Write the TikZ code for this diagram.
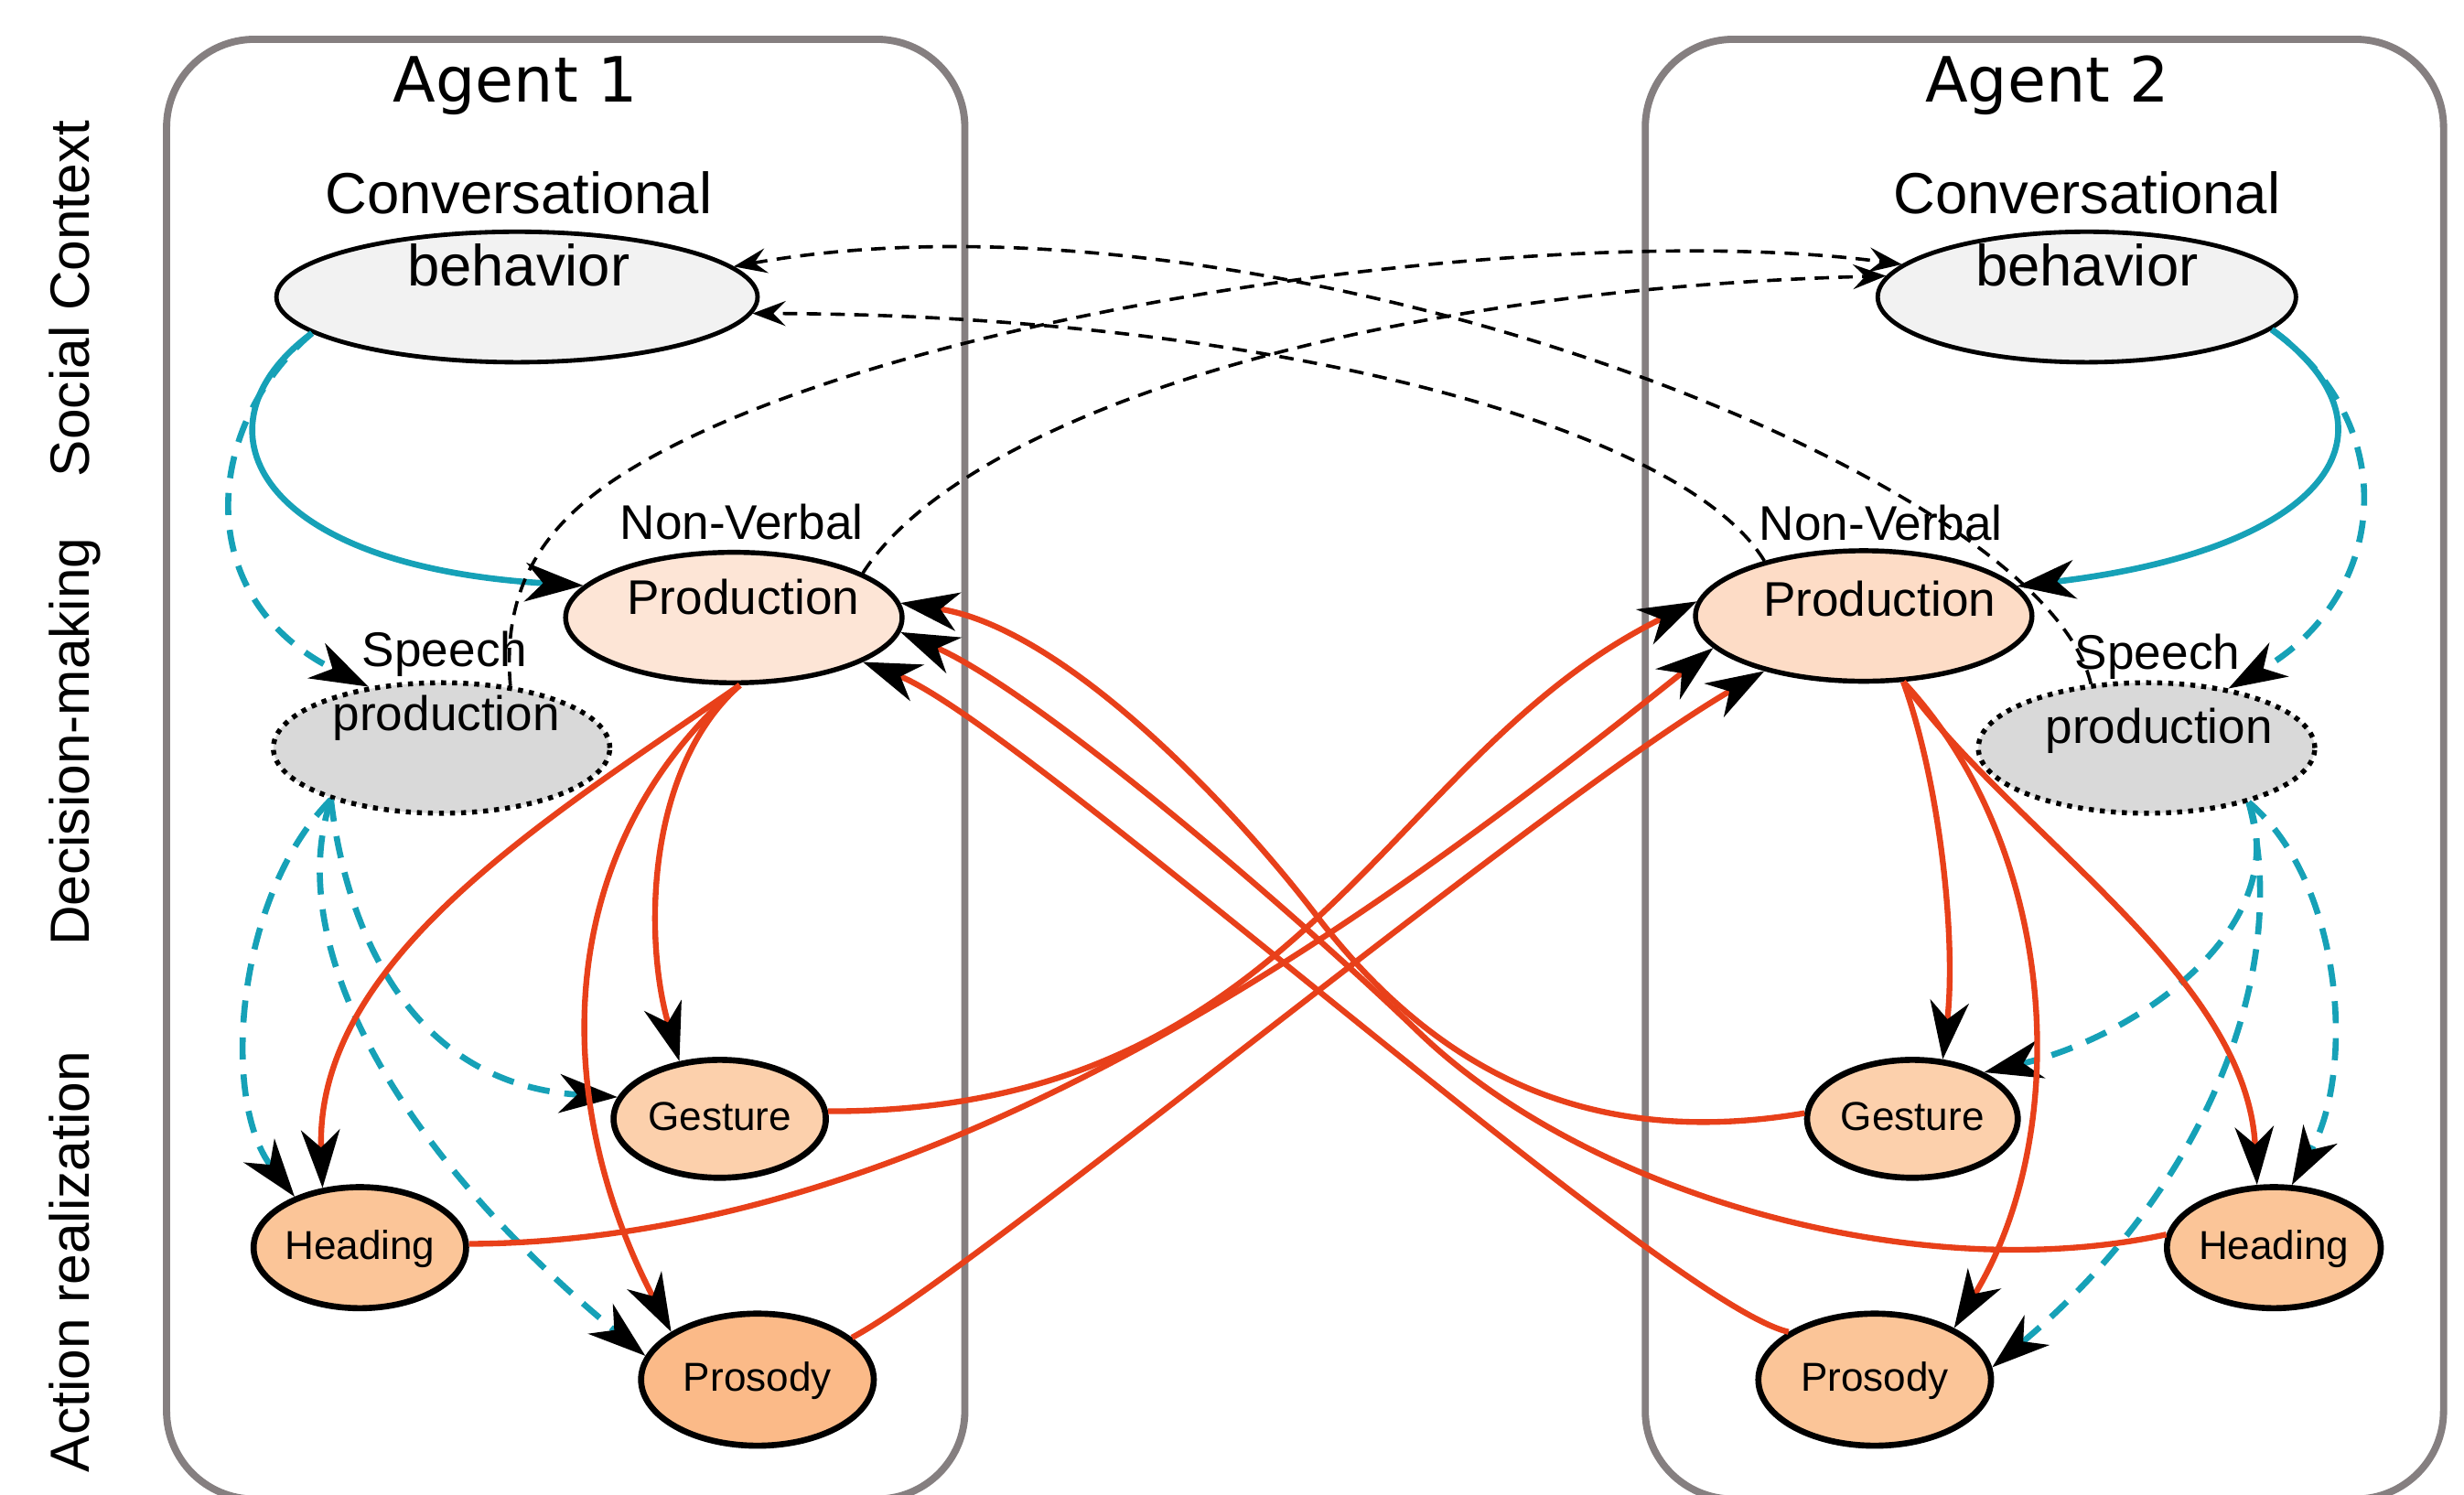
\documentclass[tikz,border=0pt]{standalone}
\usepackage{fontspec}
\setmainfont{Liberation Sans}
\newfontfamily\agentfont{DejaVu Sans}
\usetikzlibrary{shapes.geometric,arrows.meta}

\definecolor{tealc}{RGB}{22,161,183}
\definecolor{redc}{RGB}{232,64,26}
\definecolor{boxgray}{RGB}{133,127,128}
\definecolor{convfill}{RGB}{242,242,242}
\definecolor{nvfillA}{RGB}{253,229,214}
\definecolor{nvfillB}{RGB}{253,220,198}
\definecolor{spfill}{RGB}{217,217,217}
\definecolor{gesfill}{RGB}{252,208,172}
\definecolor{headfill}{RGB}{251,197,152}
\definecolor{prosfill}{RGB}{251,186,136}

\begin{document}
\begin{tikzpicture}[x=0.01cm,y=-0.01cm,
  agentbox/.style={draw=boxgray,line width=1.3pt,rounded corners=0.56cm},
  conv/.style={ellipse,draw,line width=0.8pt,fill=convfill,inner sep=0pt,minimum height=0.83cm},
  nvp/.style={ellipse,draw,line width=0.9pt,inner sep=0pt,minimum width=2.14cm,minimum height=0.83cm},
  spp/.style={ellipse,draw,line width=0.9pt,dash pattern=on 0.9pt off 1.1pt,fill=spfill,inner sep=0pt,minimum width=2.14cm,minimum height=0.83cm},
  act/.style={ellipse,draw,line width=1.1pt,inner sep=0pt,font=\fontsize{7.3}{8}\selectfont,text height=0.6em,text depth=0.17em},
  txt/.style={anchor=base,inner sep=0pt},
  bigtxt/.style={txt,font=\fontsize{10.5}{12}\selectfont},
  midtxt/.style={txt,font=\fontsize{8.8}{10}\selectfont},
  sidetxt/.style={txt,rotate=90,font=\fontsize{10}{12}\selectfont},
  agenttxt/.style={txt,font=\agentfont\fontsize{11.3}{13}\selectfont},
  bigtip/.style={-{Stealth[length=10.5pt,width=7pt,inset=3.2pt,black]}},
  smalltip/.style={-{Stealth[length=6pt,width=4.5pt,inset=2.2pt,black]}},
  tealline/.style={draw=tealc,line width=1.1pt,bigtip},
  tealdashed/.style={tealline,dash pattern=on 4pt off 2.7pt},
  redline/.style={draw=redc,line width=1.05pt,bigtip},
  blackdashed/.style={draw=black,line width=0.6pt,dash pattern=on 2.6pt off 1.7pt,smalltip}]

\useasboundingbox (0,0) rectangle (1568,951);

% the two agents
\draw[agentbox] (106,25) rectangle (614,954);
\draw[agentbox] (1047,25) rectangle (1555,954);
\node[agenttxt] (agentA) at (328,65) {Agent 1};
\node[agenttxt] (agentB) at (1303,65) {Agent 2};

% levels
\node[sidetxt] (social) at (57,190) {Social Context};
\node[sidetxt] (decision) at (57,472) {Decision-making};
\node[sidetxt] (action) at (57,803) {Action realization};

% Agent 1
\node[conv,minimum width=3.06cm] (convA) at (329,189) {};
\node[bigtxt] (convlA) at (330,136) {Conversational};
\node[bigtxt] (behA) at (330,182) {behavior};
\node[nvp,fill=nvfillA] (nvA) at (467,393) {};
\node[midtxt] (nvlA) at (472,343) {Non-Verbal};
\node[midtxt] (prodA) at (473,391) {Production};
\node[spp] (spA) at (281,476) {};
\node[midtxt] (splA) at (283,424) {Speech};
\node[midtxt] (spprodA) at (284,465) {production};
\node[act,fill=gesfill,minimum width=1.35cm,minimum height=0.75cm] (gesA) at (458,712) {Gesture};
\node[act,fill=headfill,minimum width=1.35cm,minimum height=0.77cm] (headA) at (229,794) {Heading};
\node[act,fill=prosfill,minimum width=1.48cm,minimum height=0.84cm] (prosA) at (482,878) {Prosody};

% Agent 2
\node[conv,minimum width=2.66cm] (convB) at (1328,189) {};
\node[bigtxt] (convlB) at (1328,136) {Conversational};
\node[bigtxt] (behB) at (1328,182) {behavior};
\node[nvp,fill=nvfillB] (nvB) at (1186,392) {};
\node[midtxt] (nvlB) at (1197,344) {Non-Verbal};
\node[midtxt] (prodB) at (1196,392) {Production};
\node[spp] (spB) at (1366,476) {};
\node[midtxt] (splB) at (1373,426) {Speech};
\node[midtxt] (spprodB) at (1374,473) {production};
\node[act,fill=gesfill,minimum width=1.34cm,minimum height=0.75cm] (gesB) at (1217,712) {Gesture};
\node[act,fill=headfill,minimum width=1.36cm,minimum height=0.77cm] (headB) at (1447,794) {Heading};
\node[act,fill=headfill,minimum width=1.48cm,minimum height=0.84cm] (prosB) at (1193,878) {Prosody};

% social context -> decision
\draw[tealline] (convA.190) .. controls (120,270) and (160,360) .. (nvA.168);
\draw[tealdashed] (convA.190) .. controls (130,270) and (120,380) .. (spA.140);
\draw[tealline] (convB.350) .. controls (1535,275) and (1480,350) .. (nvB.11);
\draw[tealdashed] (convB.350) .. controls (1530,270) and (1520,380) .. (spB.36);

% decision -> action, speech
\draw[tealdashed] (spA.205) .. controls (150,570) and (140,700) .. (headA.142);
\draw[tealdashed] (spA.205) .. controls (220,590) and (260,690) .. (gesA.168);
\draw[tealdashed] (spA.205) .. controls (180,600) and (250,730) .. (prosA.168);
\draw[tealdashed] (spB.332) .. controls (1460,590) and (1360,660) .. (gesB.33);
\draw[tealdashed] (spB.332) .. controls (1460,620) and (1400,760) .. (prosB.6);
\draw[tealdashed] (spB.332) .. controls (1490,560) and (1500,680) .. (headB.74);

% decision -> action, non-verbal
\draw[redline] (nvA.275) .. controls (350,520) and (200,610) .. (headA.122);
\draw[redline] (nvA.275) .. controls (410,490) and (410,600) .. (gesA.125);
\draw[redline] (nvA.275) .. controls (350,540) and (350,700) .. (prosA.151);
\draw[redline] (nvB.301) .. controls (1235,500) and (1245,600) .. (gesB.63);
\draw[redline] (nvB.301) .. controls (1310,540) and (1320,720) .. (prosB.33);
\draw[redline] (nvB.301) .. controls (1280,530) and (1430,620) .. (headB.105);

% feedback from the other agent
\draw[redline] (gesA.4) .. controls (830,708) and (880,480) .. (nvB.175);
\draw[redline] (headA.2) .. controls (600,790) and (880,580) .. (nvB.192);
\draw[redline] (prosA.24) .. controls (620,810) and (980,510) .. (nvB.209);
\draw[redline] (gesB.177) .. controls (1020,730) and (920,690) .. (838,583)
  .. controls (790,520) and (680,400) .. (nvA.5);
\draw[redline] (headB.173) .. controls (1220,820) and (1010,760) .. (903,657)
  .. controls (823,580) and (660,440) .. (nvA.-5);
\draw[redline] (prosB.151) .. controls (1060,830) and (650,460) .. (nvA.-19);

% perception of the other agent
\draw[blackdashed] (spA.42) .. controls (318,360) and (360,320) .. (420,288)
  .. controls (600,192) and (1000,140) .. (convB.170);
\draw[blackdashed] (nvA.19) .. controls (610,270) and (850,185) .. (convB.174);
\draw[blackdashed] (nvB.151) .. controls (1070,270) and (800,200) .. (convA.-4);
\draw[blackdashed] (spB.131) .. controls (1300,300) and (800,110) .. (convA.8);

\end{tikzpicture}
\end{document}
